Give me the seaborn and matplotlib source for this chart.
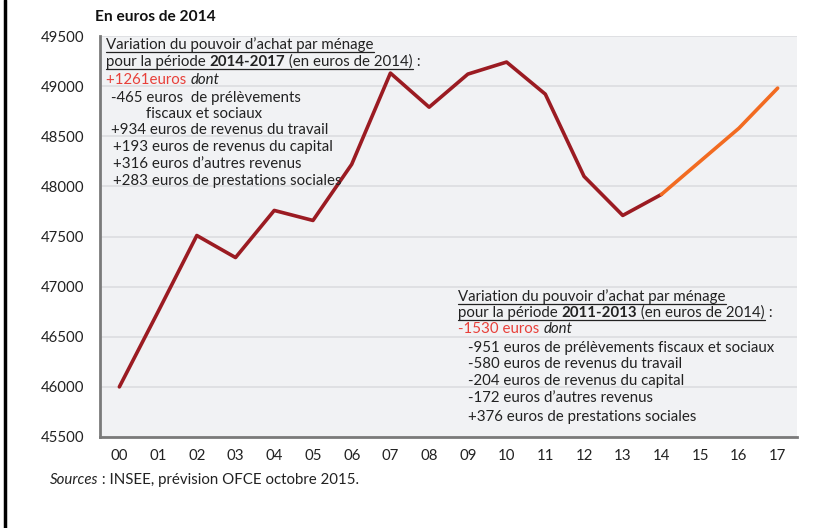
import numpy as np
import pandas as pd
import matplotlib
matplotlib.use("Agg")
import matplotlib.pyplot as plt
import seaborn as sns

# revenu disponible par ménage, en euros de 2014 (2000-2017, 2015-2017 = prévision)
years = ['00', '01', '02', '03', '04', '05', '06', '07', '08',
         '09', '10', '11', '12', '13', '14', '15', '16', '17']
pouvoir = [46000, 46750, 47510, 47290, 47760, 47660, 48220, 49130, 48790,
           49120, 49240, 48920, 48100, 47710, 47920, 48250, 48580, 48980]
last_obs = 14  # index of 2014, where the forecast starts

yticks = list(range(45500, 49501, 500))

box1_lines = ["-465 euros  de prélèvements", "fiscaux et sociaux",
              "+934 euros de revenus du travail",
              "+193 euros de revenus du capital",
              "+316 euros d\u2019autres revenus",
              "+283 euros de prestations sociales"]
box2_lines = ["-951 euros de prélèvements fiscaux et sociaux",
              "-580 euros de revenus du travail",
              "-204 euros de revenus du capital",
              "-172 euros d\u2019autres revenus",
              "+376 euros de prestations sociales"]

sns.set_style("white")
plt.rcParams['font.family'] = ['Lato', 'DejaVu Sans']

DARK = "#9b1b22"
ORANGE = "#f26b21"
RED_TXT = "#e8403a"
BG = "#f1f2f4"

x = np.arange(len(years))
df = pd.concat([
    pd.DataFrame({"x": x[:last_obs + 1], "v": pouvoir[:last_obs + 1], "seg": "obs"}),
    pd.DataFrame({"x": x[last_obs:], "v": pouvoir[last_obs:], "seg": "prev"}),
])

W, H = 833, 528
fig = plt.figure(figsize=(W / 100, H / 100), dpi=100)
ax = fig.add_axes([100 / W, 1 - 437 / H, 697 / W, 401 / H])
ax.set_facecolor(BG)

sns.lineplot(data=df, x="x", y="v", hue="seg", palette={"obs": DARK, "prev": ORANGE},
             linewidth=2.6, legend=False, ax=ax, zorder=3)

ax.set_xlim(-0.5, len(years) - 0.5)
ax.set_ylim(45500, 49500)
ax.set_yticks(yticks)
ax.set_yticklabels([str(t) for t in yticks], fontsize=10.8, color="#222")
ax.yaxis.grid(True, color="#dcdde0", linewidth=1.2)
ax.set_axisbelow(True)
ax.set_xticks(x)
ax.set_xticklabels(years, fontsize=10.8, color="#222")
ax.set_xticks(x[:-1] + 0.5, minor=True)
ax.tick_params(axis="x", which="major", length=0, pad=9)
ax.tick_params(axis="x", which="minor", length=5, width=1, color="#222", direction="out")
ax.tick_params(axis="y", length=5, width=1, color="#222", direction="out", pad=6)
ax.set_xlabel("")
ax.set_ylabel("")
for s in ["top", "right"]:
    ax.spines[s].set_visible(False)
for s in ["left", "bottom"]:
    ax.spines[s].set_color("#7a7a7a")
    ax.spines[s].set_linewidth(2)

fs = 10.8


def px(xp, yp):
    return xp / W, 1 - yp / H


def chain(parts, xp, yp, n_ul=0):
    """draw a line made of several styled pieces, one after another;
    the first n_ul pieces get underlined"""
    texts = []
    for s, kw in parts:
        t = fig.text(*px(xp, yp), s, fontsize=fs, va="center", ha="left", **kw)
        texts.append(t)
    fig.canvas.draw()
    r = fig.canvas.get_renderer()
    for i in range(1, len(texts)):
        bb = texts[i - 1].get_window_extent(r)
        texts[i].set_position((bb.x1 / W, 1 - yp / H))
        fig.canvas.draw()
    if n_ul:
        bb0 = texts[0].get_window_extent(r)
        bb1 = texts[n_ul - 1].get_window_extent(r)
        yl = bb0.y0 + 0.5
        fig.add_artist(plt.Line2D([bb0.x0 / W, bb1.x1 / W], [yl / H, yl / H],
                                  color="#222", linewidth=0.9))
    return texts


k = dict(color="#222")
kb = dict(color="#222", fontweight="bold")
ki = dict(color="#222", style="italic")

# box 1 : 2014-2017
chain([("Variation du pouvoir d\u2019achat par ménage", k)], 106, 45, n_ul=1)
chain([("pour la période ", k), ("2014-2017", kb), (" (en euros de 2014)", k), (" :", k)],
      106, 62, n_ul=3)
chain([("+1261euros ", dict(color=RED_TXT)), ("dont", ki)], 106, 80)
xs1 = [111, 146, 111, 113, 113, 113]
ys1 = [98, 114, 130, 147, 164, 181]
for s, xp, yp in zip(box1_lines, xs1, ys1):
    fig.text(*px(xp, yp), s, fontsize=fs, va="center", color="#222")

# box 2 : 2011-2013
chain([("Variation du pouvoir d\u2019achat par ménage", k)], 458, 297, n_ul=1)
chain([("pour la période ", k), ("2011-2013", kb), (" (en euros de 2014)", k), (" :", k)],
      458, 313, n_ul=3)
chain([("-1530 euros ", dict(color=RED_TXT)), ("dont", ki)], 458, 329)
ys2 = [348, 364, 381, 398, 417]
for s, yp in zip(box2_lines, ys2):
    fig.text(*px(468, yp), s, fontsize=fs, va="center", color="#222")

fig.text(*px(95, 17), "En euros de 2014", fontsize=11.2, fontweight="bold", va="center", color="#111")
chain([("Sources", ki), (" : INSEE, prévision OFCE octobre 2015.", k)], 50, 480)

# black frame line on the left edge
fig.add_artist(plt.Line2D([5 / W, 5 / W], [0, 1], color="black", linewidth=2.5))

fig.savefig("out.png", dpi=100)
